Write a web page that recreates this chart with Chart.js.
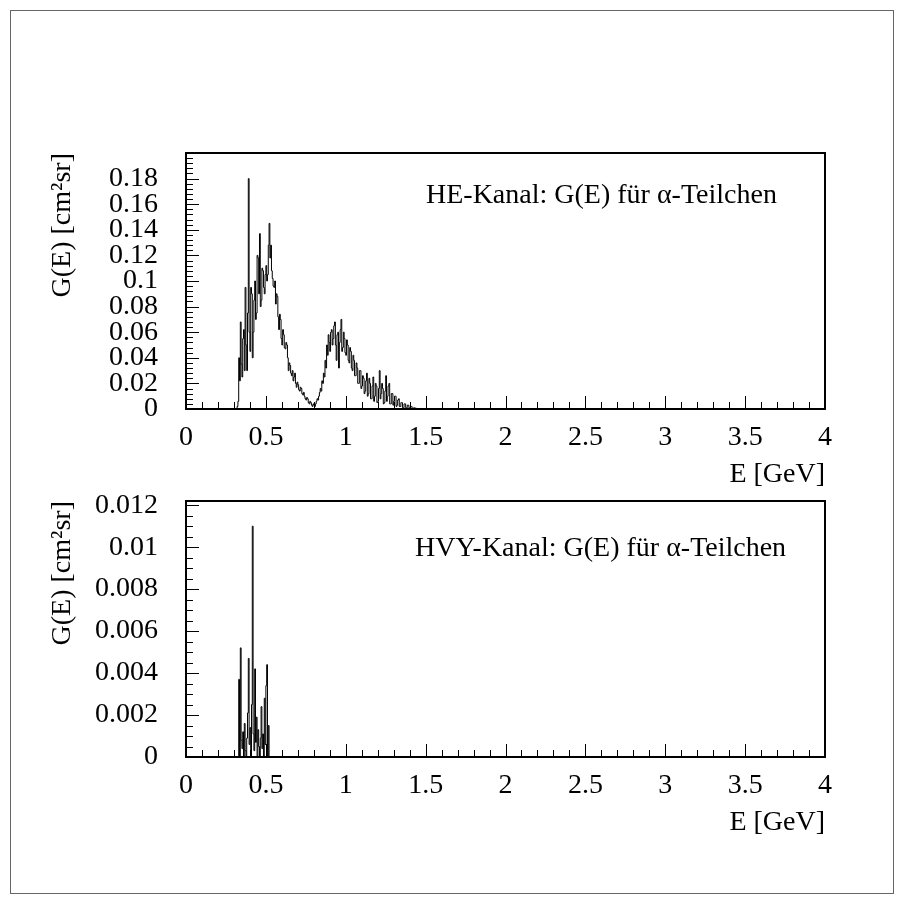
<!DOCTYPE html>
<html>
<head>
<meta charset="utf-8">
<script src="https://cdn.jsdelivr.net/npm/chart.js@4.4.1/dist/chart.umd.min.js"></script>
<style>
  body { margin: 0; background: #fff; }
  #page { position: relative; width: 904px; height: 904px; overflow: hidden; }
  #border { position: absolute; left: 10px; top: 10px; width: 882px; height: 882px; border: 1px solid #666; }
  canvas { position: absolute; left: 0; }
  #heChart { top: 0; }
  #hvyChart { top: 348px; }
</style>
</head>
<body>
<div id="page">
  <div id="border"></div>
  <canvas id="heChart" width="904" height="500"></canvas>
  <canvas id="hvyChart" width="904" height="500"></canvas>
</div>
<script>
// energy axis (GeV)
const energyTicks = [0, 0.5, 1, 1.5, 2, 2.5, 3, 3.5, 4]
const energyTickLabels = ['0', '0.5', '1', '1.5', '2', '2.5', '3', '3.5', '4']

// HE channel, bins of 0.005 GeV starting at 0.32 GeV (one row = 0.05 GeV)
const heBinStart = 0.32
const heBinWidth = 0.005
const heValues = [
    0.002, 0.006, 0.04, 0.022, 0.068, 0.035, 0.025, 0.055, 0.062, 0.03,
    0.095, 0.05, 0.03, 0.075, 0.18, 0.06, 0.045, 0.095, 0.09, 0.04,
    0.06, 0.085, 0.1, 0.07, 0.075, 0.12, 0.118, 0.09, 0.137, 0.08,
    0.085, 0.11, 0.108, 0.095, 0.09, 0.105, 0.112, 0.1, 0.105, 0.128,
    0.145, 0.118, 0.128, 0.108, 0.102, 0.096, 0.095, 0.1, 0.082, 0.09,
    0.088, 0.072, 0.062, 0.074, 0.07, 0.055, 0.05, 0.062, 0.058, 0.048,
    0.047, 0.052, 0.05, 0.04, 0.03, 0.036, 0.034, 0.028, 0.026, 0.03,
    0.022, 0.025, 0.028, 0.02, 0.017, 0.021, 0.019, 0.015, 0.014, 0.017,
    0.016, 0.012, 0.011, 0.013, 0.01, 0.008, 0.007, 0.009, 0.008, 0.005,
    0.004, 0.006, 0.005, 0.003, 0.002, 0.004, 0.003, 0.002, 0.004, 0.006,
    0.008, 0.007, 0.01, 0.013, 0.016, 0.014, 0.022, 0.02, 0.028, 0.025,
    0.038, 0.032, 0.05, 0.042, 0.058, 0.052, 0.045, 0.06, 0.062, 0.05,
    0.055, 0.065, 0.068, 0.05, 0.038, 0.058, 0.06, 0.032, 0.052, 0.062,
    0.07, 0.045, 0.048, 0.06, 0.055, 0.044, 0.042, 0.054, 0.05, 0.038,
    0.036, 0.048, 0.045, 0.032, 0.03, 0.042, 0.038, 0.026, 0.026, 0.036,
    0.032, 0.02, 0.02, 0.03, 0.03, 0.016, 0.018, 0.026, 0.024, 0.012,
    0.014, 0.022, 0.028, 0.01, 0.012, 0.024, 0.02, 0.008, 0.008, 0.018,
    0.025, 0.006, 0.01, 0.02, 0.018, 0.005, 0.006, 0.016, 0.03, 0.008,
    0.012, 0.02, 0.016, 0.004, 0.005, 0.014, 0.026, 0.006, 0.01, 0.018,
    0.02, 0.004, 0.004, 0.012, 0.012, 0.003, 0.006, 0.01, 0.01, 0.002,
    0.003, 0.007, 0.008, 0.002, 0.002, 0.005, 0.005, 0.001, 0.001, 0.004,
    0.004, 0.001, 0.001, 0.003, 0.003, 0.001, 0.001, 0.002, 0.002, 0.0005,
    0.0005, 0.001, 0.001, 0, 0.0005, 0, 0
]
const heYTicks = [0, 0.02, 0.04, 0.06, 0.08, 0.1, 0.12, 0.14, 0.16, 0.18]
const heYTickLabels = ['0', '0.02', '0.04', '0.06', '0.08', '0.1', '0.12', '0.14', '0.16', '0.18']

// HVY channel, bins of 0.005 GeV starting at 0.33 GeV
const hvyBinStart = 0.33
const hvyBinWidth = 0.005
const hvyValues = [
    0.0037, 0, 0.0052, 0.0008, 0.0004, 0.0012, 0, 0.0016, 0.0003, 0,
    0.0009, 0.0021, 0.0047, 0.0006, 0.0014, 0, 0.0025, 0.011, 0.0011, 0.0003,
    0.0042, 0.0007, 0.0019, 0, 0.0013, 0.0005, 0, 0.0009, 0.0024, 0.0004,
    0.0011, 0, 0.0028, 0.0006, 0.0034, 0.0044, 0, 0.0015, 0
]
const hvyYTicks = [0, 0.002, 0.004, 0.006, 0.008, 0.01, 0.012]
const hvyYTickLabels = ['0', '0.002', '0.004', '0.006', '0.008', '0.01', '0.012']

const FONT = 'Liberation Serif'
Chart.defaults.font.family = FONT
Chart.defaults.font.size = 28
Chart.defaults.color = '#000'

function histPoints(start, width, values){
    const pts = [{x: 0, y: 0}]
    values.forEach((v, i) => pts.push({x: +(start + i * width).toFixed(4), y: v}))
    pts.push({x: +(start + values.length * width).toFixed(4), y: 0})
    pts.push({x: 4, y: 0})
    return pts
}

// frame, inside ticks and the channel caption
const framePlugin = {
    id: 'frame',
    afterDraw(chart, args, opts){
        const {ctx, chartArea: a} = chart
        const xs = chart.scales.x, ys = chart.scales.y
        ctx.save()
        ctx.strokeStyle = '#000'
        ctx.lineWidth = 1
        // x ticks
        for(let i = 0; i <= 40; i++){
            const v = i / 10
            const px = Math.round(xs.getPixelForValue(v)) + 0.5
            const len = (i % 5 === 0) ? 13 : 7
            ctx.beginPath(); ctx.moveTo(px, a.bottom); ctx.lineTo(px, a.bottom - len); ctx.stroke()
        }
        // y ticks
        const n = Math.round(opts.yMax / opts.yMinor)
        for(let i = 0; i <= n; i++){
            const v = i * opts.yMinor
            if(v > ys.max) break
            const py = Math.round(ys.getPixelForValue(v)) + 0.5
            const len = (i % opts.yPerMajor === 0) ? 13 : 7
            ctx.beginPath(); ctx.moveTo(a.left, py); ctx.lineTo(a.left + len, py); ctx.stroke()
        }
        ctx.lineWidth = 2
        ctx.strokeRect(a.left, a.top, a.right - a.left, a.bottom - a.top)
        ctx.fillStyle = '#000'
        ctx.font = '28px "' + FONT + '"'
        ctx.textBaseline = 'alphabetic'
        ctx.fillText(opts.caption, a.left + opts.capX, a.top + opts.capY)
        ctx.restore()
    }
}

function makeChart(id, points, yMax, yTicks, yTickLabels, frameOpts){
    return new Chart(document.getElementById(id), {
        type: 'line',
        data: {
            datasets: [{
                data: points,
                borderColor: '#000',
                borderWidth: 1,
                pointRadius: 0,
                stepped: 'before',
                fill: false
            }]
        },
        options: {
            responsive: false,
            animation: false,
            devicePixelRatio: 1,
            layout: { padding: { top: 153, right: 79, left: 0, bottom: 0 } },
            plugins: { legend: { display: false }, tooltip: { enabled: false }, frame: frameOpts },
            scales: {
                x: {
                    type: 'linear', min: 0, max: 4,
                    afterBuildTicks: s => { s.ticks = energyTicks.map(v => ({value: v})) },
                    afterFit: s => { s.height = 91 },
                    ticks: { callback: (v, i) => energyTickLabels[i], padding: 12, maxRotation: 0, autoSkip: false },
                    grid: { display: false, drawTicks: false },
                    border: { display: false },
                    title: { display: true, text: 'E [GeV]', align: 'end', padding: { top: 0, bottom: 9 } }
                },
                y: {
                    type: 'linear', min: 0, max: yMax,
                    afterBuildTicks: s => { s.ticks = yTicks.map(v => ({value: v})) },
                    afterFit: s => { s.width = 186 },
                    ticks: { callback: (v, i) => yTickLabels[i], padding: 28, autoSkip: false },
                    grid: { display: false, drawTicks: false },
                    border: { display: false },
                    title: { display: true, text: 'G(E) [cm²sr]', align: 'end', padding: { top: 46, bottom: 0 } }
                }
            }
        },
        plugins: [framePlugin]
    })
}

makeChart('heChart', histPoints(heBinStart, heBinWidth, heValues), 0.2, heYTicks, heYTickLabels,
    { yMax: 0.2, yMinor: 0.004, yPerMajor: 5, caption: 'HE-Kanal: G(E) für α-Teilchen', capX: 240, capY: 50 })
makeChart('hvyChart', histPoints(hvyBinStart, hvyBinWidth, hvyValues), 0.0122, hvyYTicks, hvyYTickLabels,
    { yMax: 0.0122, yMinor: 0.0005, yPerMajor: 4, caption: 'HVY-Kanal: G(E) für α-Teilchen', capX: 229, capY: 55 })
</script>
</body>
</html>
